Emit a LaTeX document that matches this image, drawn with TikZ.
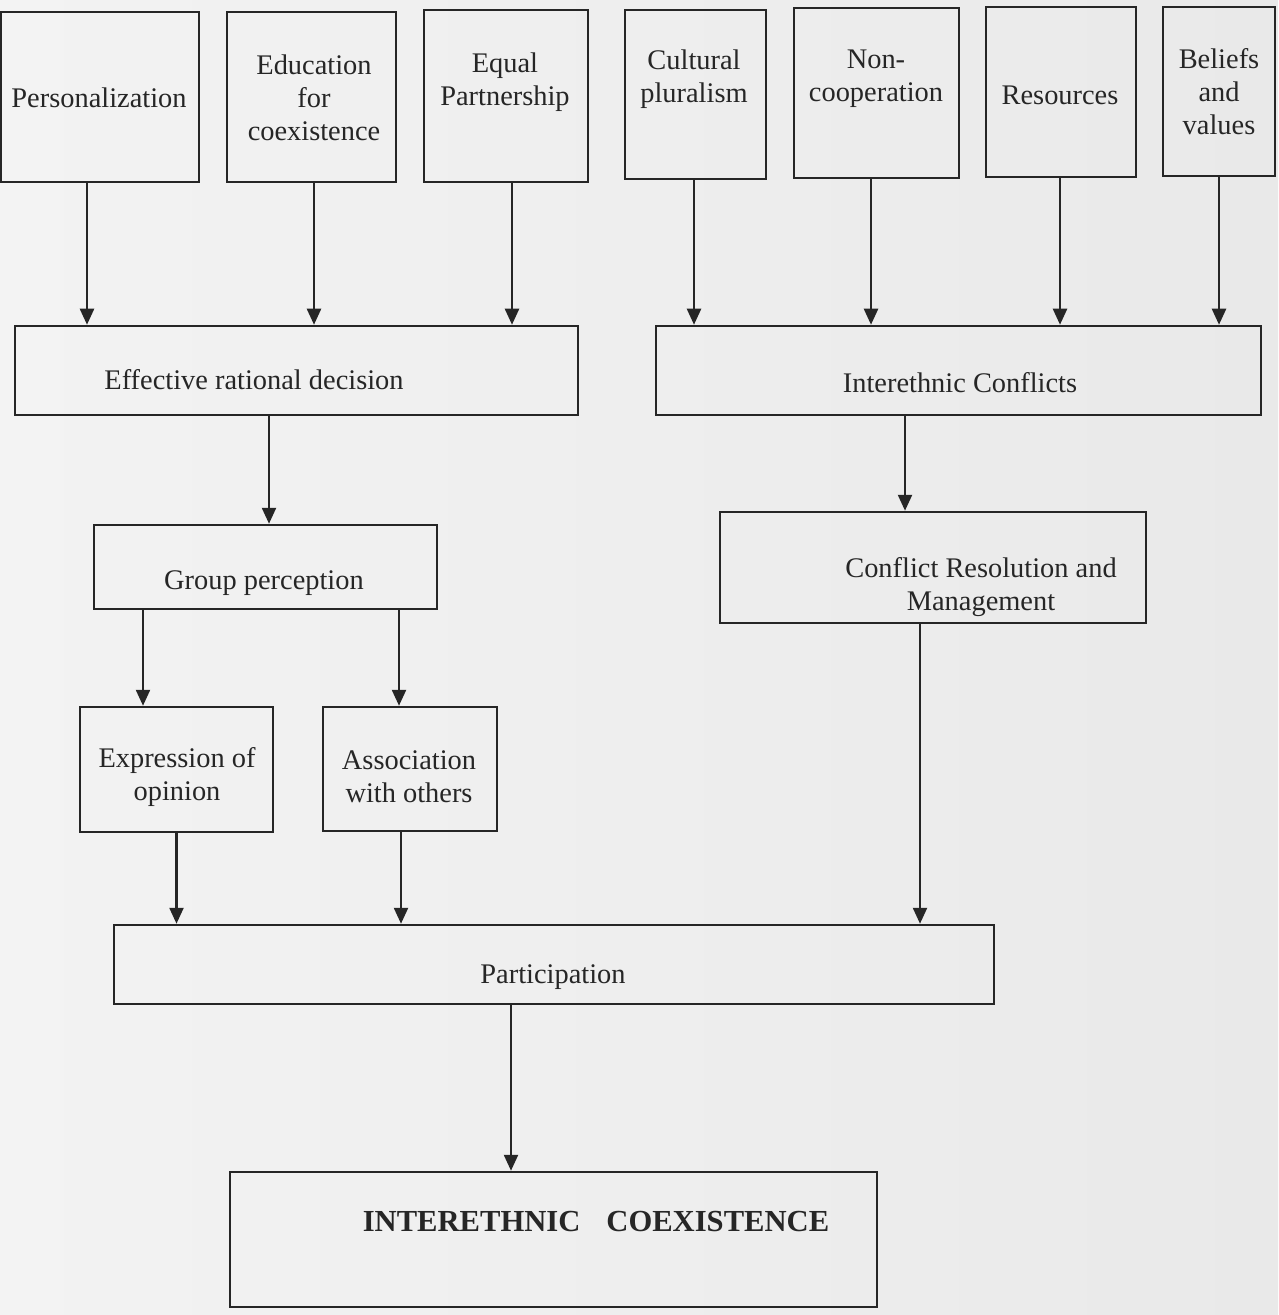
\documentclass[tikz,border=0pt]{standalone}
\usepackage{fontspec}
\setmainfont{Liberation Serif}
\usetikzlibrary{fit,arrows.meta}
\definecolor{ink}{HTML}{262626}
\definecolor{paper}{HTML}{E9E9E9}
\definecolor{paperl}{HTML}{F3F3F3}
\begin{document}
\begin{tikzpicture}[x=0.5pt,y=-0.5pt,
  box/.style={draw=ink,line width=1.25pt,inner sep=0pt},
  txt/.style={text=ink,align=center,font=\fontsize{14.2}{16.5}\selectfont,inner sep=0pt},
  arr/.style={draw=ink,line width=1.2pt,-{Triangle[length=8pt,width=7pt]}}]
\useasboundingbox (0,0) rectangle (1278,1315);
\shade[left color=paperl,right color=paper] (0,0) rectangle (1278,1315);
% top row
\node[box,fit={(1,12) (199,182)}] (pers) {};
\node[box,fit={(227,12) (396,182)}] (edu) {};
\node[box,fit={(424,10) (588,182)}] (equal) {};
\node[box,fit={(625,10) (766,179)}] (cult) {};
\node[box,fit={(794,8) (959,178)}] (noncoop) {};
\node[box,fit={(986,7) (1136,177)}] (res) {};
\node[box,fit={(1163,7) (1275,176)}] (belief) {};
\node[txt] (tpers) at (99,98) {Personalization};
\node[txt] (tedu) at (314,98) {Education\\for\\coexistence};
\node[txt] (tequal) at (505,82) {Equal\\Partnership};
\node[txt] (tcult) at (694,79) {Cultural\\pluralism};
\node[txt] (tnon) at (876,79) {Non-\\cooperation};
\node[txt] (tres) at (1060,95) {Resources};
\node[txt] (tbel) at (1219,92) {Beliefs\\and\\values};
% second row
\node[box,fit={(15,326) (578,415)}] (erd) {};
\node[box,fit={(656,326) (1261,415)}] (iec) {};
\node[txt] (terd) at (254,380) {Effective rational decision};
\node[txt] (tiec) at (960,383) {Interethnic Conflicts};
% third row
\node[box,fit={(94,525) (437,609)}] (grp) {};
\node[box,fit={(720,512) (1146,623)}] (crm) {};
\node[txt] (tgrp) at (264,583) {Group perception};
\node[txt] (tcrm) at (981,587) {Conflict Resolution and\\Management};
% fourth row
\node[box,fit={(80,707) (273,832)}] (expr) {};
\node[box,fit={(323,707) (497,831)}] (assoc) {};
\node[txt] (texpr) at (177,777) {Expression of\\opinion};
\node[txt] (tassoc) at (409,777) {Association\\with others};
% participation
\node[box,fit={(114,925) (994,1004)}] (part) {};
\node[txt] (tpart) at (553,977) {Participation};
% coexistence
\node[box,fit={(230,1172) (877,1307)}] (coex) {};
\node[txt,font=\fontsize{15.3}{17}\selectfont\bfseries] (tcoex) at (596,1222) {INTERETHNIC\hspace{0.6em} COEXISTENCE};
% arrows top row -> second row
\draw[arr] ([xshift=-6.5pt]pers.south) -- ([xshift=-6.5pt]pers.south |- erd.north);
\draw[arr] ([xshift=1.25pt]edu.south) -- ([xshift=1.25pt]edu.south |- erd.north);
\draw[arr] ([xshift=3pt]equal.south) -- ([xshift=3pt]equal.south |- erd.north);
\draw[arr] ([xshift=-0.75pt]cult.south) -- ([xshift=-0.75pt]cult.south |- iec.north);
\draw[arr] ([xshift=-2.75pt]noncoop.south) -- ([xshift=-2.75pt]noncoop.south |- iec.north);
\draw[arr] ([xshift=-0.5pt]res.south) -- ([xshift=-0.5pt]res.south |- iec.north);
\draw[arr] (belief.south) -- (belief.south |- iec.north);
% second -> third
\draw[arr] ([xshift=-13.75pt]erd.south) -- ([xshift=-13.75pt]erd.south |- grp.north);
\draw[arr] ([xshift=-26.75pt]iec.south) -- ([xshift=-26.75pt]iec.south |- crm.north);
% group -> fourth row
\draw[arr] ([xshift=-61.25pt]grp.south) -- ([xshift=-61.25pt]grp.south |- expr.north);
\draw[arr] ([xshift=66.75pt]grp.south) -- ([xshift=66.75pt]grp.south |- assoc.north);
% fourth row -> participation
\draw[arr] (expr.south) -- (expr.south |- part.north);
\draw[arr] ([xshift=-4.5pt]assoc.south) -- ([xshift=-4.5pt]assoc.south |- part.north);
\draw[arr] ([xshift=-6.5pt]crm.south) -- ([xshift=-6.5pt]crm.south |- part.north);
% participation -> coexistence
\draw[arr] ([xshift=-21.5pt]part.south) -- ([xshift=-21.5pt]part.south |- coex.north);
\end{tikzpicture}
\end{document}
